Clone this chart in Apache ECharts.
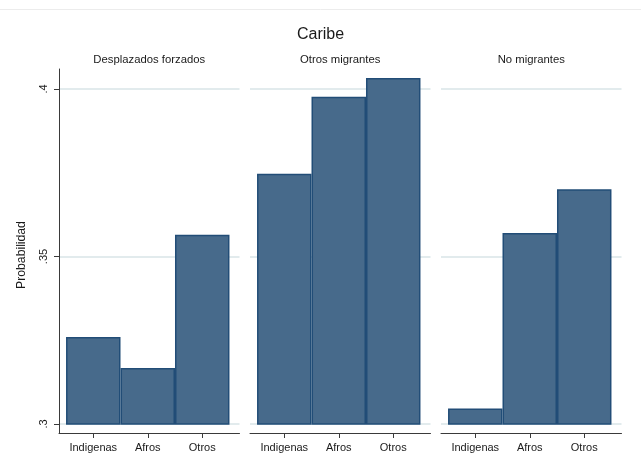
<!DOCTYPE html>
<html>
<head>
<meta charset="utf-8">
<style>
  html, body { margin: 0; padding: 0; background: #fff; }
  #chart { width: 641px; height: 470px; }
</style>
<script src="https://cdn.jsdelivr.net/npm/echarts@6/dist/echarts.min.js"></script>
</head>
<body>
<div id="chart"></div>
<script>
// Predicted probability by group, Caribe region
const chartTitle = 'Caribe';
const panels = ['Desplazados forzados', 'Otros migrantes', 'No migrantes'];
const categories = ['Indigenas', 'Afros', 'Otros'];
const desplazados = [0.3260, 0.3167, 0.3565];
const otrosMigrantes = [0.3747, 0.3977, 0.4033];
const noMigrantes = [0.3046, 0.3570, 0.3701];
const yTicks = [0.3, 0.35, 0.4];
const yAxisTitle = 'Probabilidad';

const seriesValues = [desplazados, otrosMigrantes, noMigrantes];

const FONT = '"Liberation Sans", Arial, sans-serif';
const TEXT = '#1a1a1a';
const AXIS = '#3a3a3a';
const FILL = '#476a8b';
const EDGE = '#224d77';
const GRIDLINE = '#e2ebed';

// panel layout (px)
const panelLeft = [59, 250, 441];
const panelWidth = 180.5;
// value scale .3 .. .45; .3 sits at y=424 and .4 at y=89, so .45 lies above the canvas
const yMin = 0.3, yMax = 0.45, yStep = 0.05;
const pxPerUnit = 3350;
const plotBottom = 424;
const plotTop = plotBottom - (yMax - yMin) * pxPerUnit;
const frameTop = 69;
const frameBottom = 433;
const xMin = 0.371, xMax = 3.684;   // category slots at 1, 2, 3
const catPos = categories.map((c, i) => i + 1);

const fmtTick = v => String(+(+v).toFixed(2)).replace(/^0/, '');

const grid = [], xAxis = [], yAxis = [], series = [], title = [];

title.push({
  text: chartTitle, left: 'center', top: 27, padding: 0,
  textStyle: { fontFamily: FONT, fontSize: 16, fontWeight: 'normal', color: TEXT }
});

panels.forEach((name, p) => {
  const L = panelLeft[p];
  title.push({
    text: name, left: L + panelWidth / 2, top: 54, textAlign: 'center', padding: 0,
    textStyle: { fontFamily: FONT, fontSize: 11.3, fontWeight: 'normal', color: TEXT }
  });

  // data grid
  grid.push({
    left: L, width: panelWidth, top: plotTop, height: plotBottom - plotTop,
    outerBoundsMode: 'none', containLabel: false
  });
  // frame grid: axis lines, x ticks and labels
  grid.push({
    left: L, width: panelWidth, top: frameTop, height: frameBottom - frameTop,
    outerBoundsMode: 'none', containLabel: false
  });

  const gData = 2 * p, gFrame = 2 * p + 1;

  xAxis.push({
    gridIndex: gData, type: 'value', min: xMin, max: xMax, show: false
  });
  xAxis.push({
    gridIndex: gFrame, type: 'value', min: xMin, max: xMax,
    splitLine: { show: false },
    axisLine: { show: true, onZero: false, lineStyle: { color: AXIS, width: 1 } },
    axisTick: { show: true, customValues: catPos, length: 5, lineStyle: { color: AXIS } },
    axisLabel: {
      customValues: catPos, margin: 9,
      formatter: v => categories[Math.round(v) - 1] || '',
      fontFamily: FONT, fontSize: 11, color: TEXT
    }
  });

  yAxis.push({
    gridIndex: gData, type: 'value', min: yMin, max: yMax, interval: yStep,
    axisLine: { show: false },
    axisTick: { show: p === 0, customValues: yTicks, length: 5, lineStyle: { color: AXIS } },
    axisLabel: {
      show: p === 0, rotate: 90, margin: 10,
      customValues: yTicks,
      formatter: v => fmtTick(v),
      fontFamily: FONT, fontSize: 11, color: TEXT
    },
    splitLine: { show: true, lineStyle: { color: GRIDLINE, width: 2 } }
  });
  yAxis.push({
    gridIndex: gFrame, type: 'value', min: 0, max: 1,
    show: p === 0,
    splitLine: { show: false },
    axisTick: { show: false },
    axisLabel: { show: false },
    axisLine: { show: p === 0, onZero: false, lineStyle: { color: AXIS, width: 1 } }
  });

  series.push({
    type: 'bar',
    xAxisIndex: gData, yAxisIndex: gData,
    data: seriesValues[p].map((v, i) => [catPos[i], v]),
    barWidth: '100%',
    itemStyle: { color: FILL, borderColor: EDGE, borderWidth: 1.5 },
    silent: true
  });
});

const chart = echarts.init(document.getElementById('chart'), null, { renderer: 'canvas' });
chart.setOption({
  animation: false,
  backgroundColor: '#ffffff',
  title, grid, xAxis, yAxis, series,
  graphic: [
    {
      type: 'line', shape: { x1: 0, y1: 9.5, x2: 641, y2: 9.5 },
      style: { stroke: '#ececec', lineWidth: 1 }, silent: true
    },
    {
      // y-axis title, centred on the .3–.4 span
      type: 'text', x: 22, y: 255, rotation: Math.PI / 2, silent: true,
      style: {
        text: yAxisTitle, fontFamily: FONT, fontSize: 12.2, fill: TEXT,
        textAlign: 'center', textVerticalAlign: 'middle'
      }
    }
  ]
});
</script>
</body>
</html>
